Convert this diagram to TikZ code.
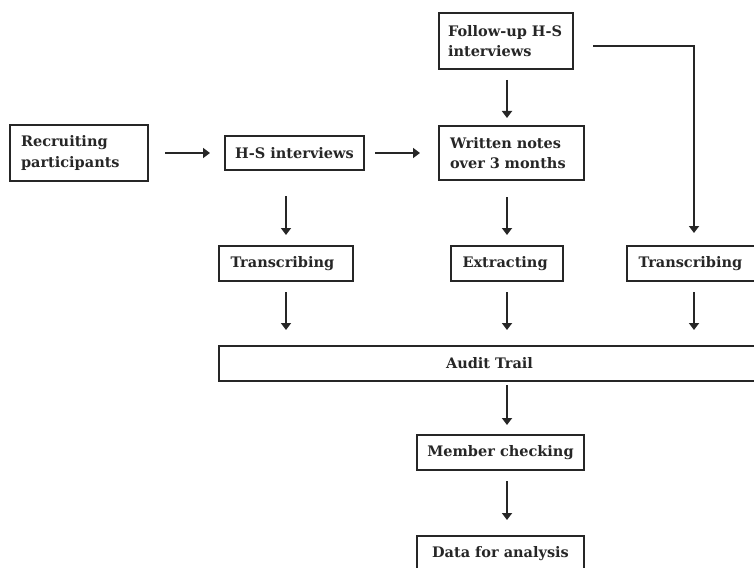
\documentclass[tikz,border=0pt]{standalone}
\usepackage{fontspec}
\setmainfont{DejaVu Serif}
\usetikzlibrary{arrows.meta}
\definecolor{ink}{HTML}{262626}
\begin{document}
\begin{tikzpicture}[x=1pt,y=-1pt,
  box/.style={draw=ink, line width=2pt, inner sep=0pt, outer sep=0pt,
    font=\bfseries\fontsize{14.5}{20.5}\selectfont, text=ink},
  twoline/.style={box, align=left, inner xsep=11pt},
  leftpad/.style={box, align=left, inner xsep=11.5pt},
  arr/.style={draw=ink, line width=1.8pt, -{Triangle[length=7pt,width=10pt]}}]
\useasboundingbox (0,0) rectangle (754,567);
\clip (0,0) rectangle (754,567);

% columns of the vertical connectors
\coordinate (colA) at (286,0);
\coordinate (colB) at (507,0);
\coordinate (colC) at (694,0);

% top row
\node[twoline, text width=116pt, minimum height=56pt] (rec) at (79,153)
  {Recruiting\\participants};
\node[box, minimum width=139pt, minimum height=34pt] (hs) at (294.5,153)
  {H-S interviews};
\node[twoline, text width=123pt, minimum height=54pt] (wn) at (511.5,153)
  {Written notes\\over 3 months};
\node[twoline, text width=116pt, inner xsep=9pt, minimum height=56pt] (fu) at (506,41)
  {Follow-up H-S\\interviews};

% middle row
\node[leftpad, text width=111pt, minimum height=35pt] (trL) at (286,263.5)
  {Transcribing};
\node[leftpad, text width=89pt, minimum height=35pt] (ext) at (507,263.5)
  {Extracting};
\node[leftpad, text width=111pt, minimum height=35pt] (trR) at (694,263.5)
  {Transcribing};

% audit trail and the final steps
\node[box, minimum width=541pt, minimum height=35pt] (aud) at (489.5,363.5)
  {Audit Trail};
\node[box, minimum width=167pt, minimum height=35pt] (mc) at (500.5,452.5)
  {Member checking};
\node[box, minimum width=167pt, minimum height=35pt] (dat) at (500.5,553.5)
  {Data for analysis};

% horizontal connectors
\draw[arr, shorten <=17pt, shorten >=15pt] (rec) -- (hs);
\draw[arr, shorten <=11pt, shorten >=19pt] (hs) -- (wn);

% vertical connectors
\draw[arr, shorten <=11pt, shorten >=8pt] (colB |- fu.south) -- (colB |- wn.north);
\draw[arr, shorten <=26pt, shorten >=11pt] (colA |- hs.south) -- (colA |- trL.north);
\draw[arr, shorten <=17pt, shorten >=11pt] (colB |- wn.south) -- (colB |- ext.north);
\draw[arr, shorten <=11pt, shorten >=16pt] (colA |- trL.south) -- (colA |- aud.north);
\draw[arr, shorten <=11pt, shorten >=16pt] (colB |- ext.south) -- (colB |- aud.north);
\draw[arr, shorten <=11pt, shorten >=16pt] (colC |- trR.south) -- (colC |- aud.north);
\draw[arr, shorten <=4pt, shorten >=10pt] (colB |- aud.south) -- (colB |- mc.north);
\draw[arr, shorten <=11pt, shorten >=16pt] (colB |- mc.south) -- (colB |- dat.north);

% elbow from the follow-up interviews to the right-hand transcription
\coordinate (elbowStart) at ([xshift=20pt,yshift=-5pt]fu.east);
\draw[arr, shorten >=13pt] (elbowStart) -| (trR.north);
\end{tikzpicture}
\end{document}
